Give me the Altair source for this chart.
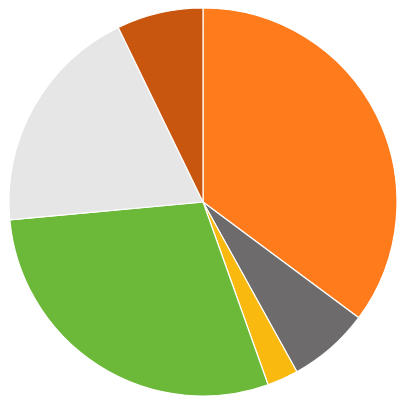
import altair as alt
import pandas as pd

categories = ["A", "B", "C", "D", "E", "F"]
values = [35.2, 6.8, 2.6, 29.0, 19.3, 7.2]
colors = ["#FF7B1C", "#6E6B6C", "#F9B90E", "#6CB93A", "#E6E6E6", "#C9560E"]

df = pd.DataFrame({"cat": categories, "value": values, "idx": list(range(len(categories)))})

chart = (
    alt.Chart(df)
    .mark_arc(radius=194, stroke="#ffffff", strokeWidth=1.2)
    .encode(
        theta=alt.Theta("value:Q", stack=True),
        color=alt.Color("cat:N", scale=alt.Scale(domain=categories, range=colors), legend=None),
        order=alt.Order("idx:Q"),
    )
    .properties(width=390, height=388, padding=0, autosize=alt.AutoSizeParams(type="none"))
    .configure_view(stroke=None)
)

chart.save("out.html", embed_options={"renderer": "svg", "actions": False})
